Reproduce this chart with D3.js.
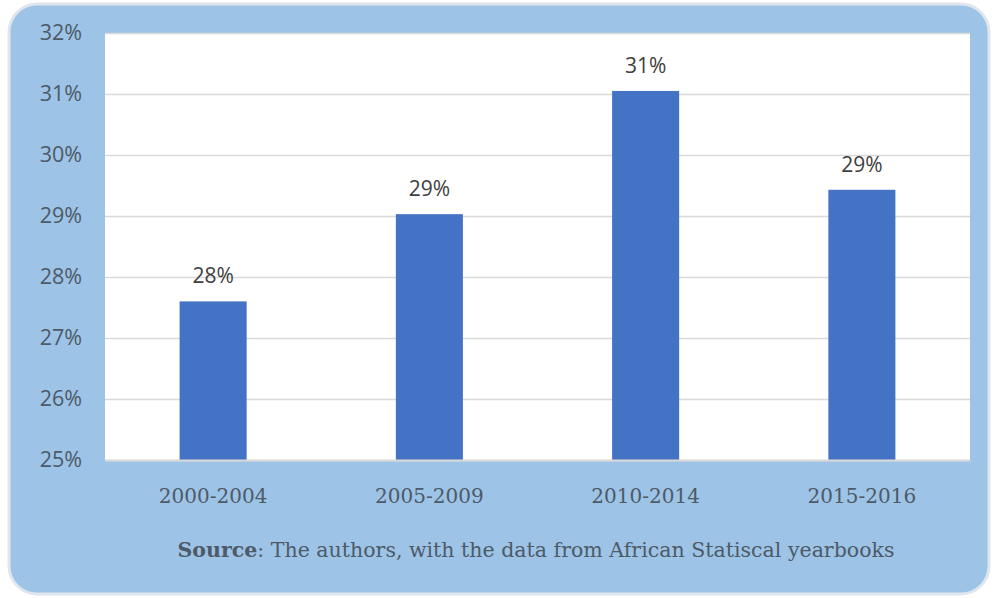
<!DOCTYPE html>
<html><head><meta charset="utf-8">
<script src="https://cdn.jsdelivr.net/npm/d3@7"></script>
<style>body{margin:0;background:#fff;} svg{display:block;}</style>
</head><body>
<svg id="c" width="994" height="598"></svg>
<script>
const categories = ["2000-2004","2005-2009","2010-2014","2015-2016"];
const values = [27.6, 29.03, 31.05, 29.43];
const labels = ["28%","29%","31%","29%"];
const yTicks = [25,26,27,28,29,30,31,32];
const sourceBold = "Source";
const sourceRest = ": The authors, with the data from African Statiscal yearbooks";

const svg = d3.select("#c");
svg.append("rect").attr("x",9).attr("y",4).attr("width",980).attr("height",590)
  .attr("rx",28).attr("fill","#9dc3e6").attr("stroke","#dfe6ee").attr("stroke-width",3);

const m = {l:105, r:970, t:33, b:460};
svg.append("rect").attr("x",m.l).attr("y",m.t).attr("width",m.r-m.l).attr("height",m.b-m.t).attr("fill","#fff");

const x = d3.scaleBand().domain(categories).range([m.l,m.r]).paddingInner(0.69).paddingOuter(0.345);
const y = d3.scaleLinear().domain([25,32]).range([m.b,m.t]);

const grid = svg.append("g").attr("transform",`translate(${m.l},0)`)
  .call(d3.axisLeft(y).tickValues(yTicks).tickSize(-(m.r-m.l)).tickFormat(""));
grid.select(".domain").remove();
grid.selectAll("line").attr("stroke","#d9d9d9").attr("stroke-width",1.5);

const yl = svg.append("g").attr("transform",`translate(${m.l},0)`)
  .call(d3.axisLeft(y).tickValues(yTicks).tickSize(0).tickPadding(23).tickFormat(d=>d+"%"));
yl.select(".domain").remove();
yl.selectAll("text").attr("font-family","'Open Sans', sans-serif").attr("font-size",21.5).attr("fill","#4d5a68");

svg.selectAll("rect.bar").data(values).join("rect").attr("class","bar")
  .attr("x",(d,i)=>x(categories[i])).attr("width",x.bandwidth())
  .attr("y",d=>y(d)).attr("height",d=>m.b-y(d)).attr("fill","#4472c4");

svg.selectAll("text.lab").data(values).join("text").attr("class","lab")
  .attr("x",(d,i)=>x(categories[i])+x.bandwidth()/2).attr("y",d=>y(d)-18)
  .attr("text-anchor","middle").attr("font-family","'Open Sans', sans-serif").attr("font-size",21).attr("fill","#404040")
  .text((d,i)=>labels[i]);

const xa = svg.append("g").attr("transform",`translate(0,${m.b})`)
  .call(d3.axisBottom(x).tickSize(0).tickPadding(29));
xa.select(".domain").attr("stroke","#d9d9d9").attr("stroke-width",2);
xa.selectAll("text").attr("font-family","'DejaVu Serif', serif").attr("font-size",20).attr("fill","#4d5a68");

const src = svg.append("text").attr("x",536).attr("y",557).attr("text-anchor","middle")
  .attr("font-family","'DejaVu Serif', serif").attr("font-size",20.5).attr("fill","#4d5a68")
  .attr("textLength",717).attr("lengthAdjust","spacingAndGlyphs");
src.append("tspan").attr("font-weight","bold").text(sourceBold);
src.append("tspan").text(sourceRest);
</script>
</body></html>
